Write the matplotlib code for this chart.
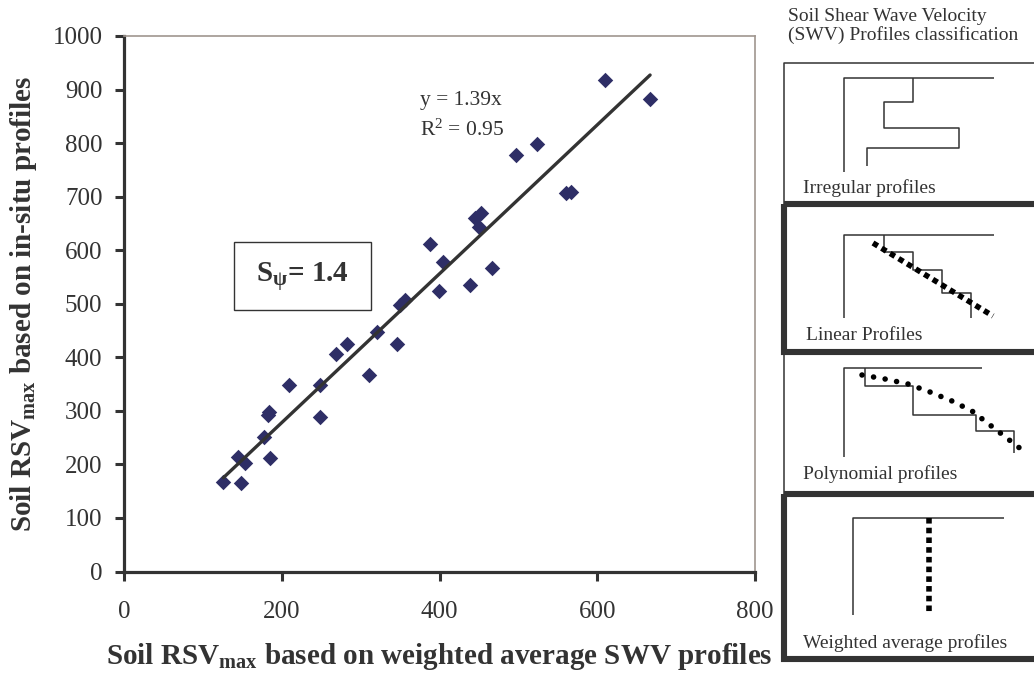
import matplotlib
matplotlib.use("Agg")
import matplotlib.pyplot as plt
from matplotlib.patches import Rectangle

plt.rcParams['font.family'] = ['Liberation Serif', 'DejaVu Serif']
plt.rcParams['mathtext.fontset'] = 'custom'
plt.rcParams['mathtext.rm'] = 'Liberation Serif'
plt.rcParams['mathtext.it'] = 'Liberation Serif:italic'
plt.rcParams['mathtext.bf'] = 'Liberation Serif:bold'

# RSVmax: weighted average SWV profiles (x) vs in-situ profiles (y)
rsv_weighted = [126, 148, 145, 153, 185, 177, 182, 184, 209, 249, 248, 269, 283, 310,
                321, 346, 350, 356, 399, 404, 388, 439, 466, 445, 452, 450, 561,
                567, 497, 523, 610, 667]
rsv_insitu = [168, 165, 213, 202, 212, 251, 292, 298, 348, 288, 348, 406, 425, 367,
              447, 424, 498, 507, 524, 578, 612, 535, 567, 660, 669, 644, 707,
              709, 778, 798, 917, 882]
slope = 1.39
r2 = 0.95
s_psi = 1.4

x_ticks = [0, 200, 400, 600, 800]
y_ticks = [0, 100, 200, 300, 400, 500, 600, 700, 800, 900, 1000]

dark = '#333333'

fig = plt.figure(figsize=(10.34, 6.73), dpi=100)
ax = fig.add_axes([124 / 1034, 101.5 / 673, 631 / 1034, 535.5 / 673])

ax.scatter(rsv_weighted, rsv_insitu, marker='D', s=62, color='#2e2e66', zorder=3,
           linewidths=0)
x_fit = [min(rsv_weighted), max(rsv_weighted)]
ax.plot(x_fit, [slope * v for v in x_fit], color=dark, lw=2.4, zorder=4,
        solid_capstyle='round')

ax.set_xlim(0, 800)
ax.set_ylim(0, 1000)
ax.set_xticks(x_ticks)
ax.set_yticks(y_ticks)
ax.tick_params(direction='out', length=6.5, width=2.2, color=dark, labelsize=18,
               labelcolor=dark)
ax.tick_params(axis='x', pad=15)
ax.tick_params(axis='y', pad=9)
for side in ['left', 'bottom']:
    ax.spines[side].set_linewidth(2.3)
    ax.spines[side].set_color(dark)
for side in ['top', 'right']:
    ax.spines[side].set_linewidth(1.2)
    ax.spines[side].set_color('#a0968f')

ax.set_xlabel(r'Soil RSV$_{\mathbf{max}}$ based on weighted average SWV profiles',
              fontsize=21, fontweight='bold', color=dark)
ax.set_ylabel(r'Soil RSV$_{\mathbf{max}}$ based on in-situ profiles',
              fontsize=21, fontweight='bold', color=dark)
ax.xaxis.set_label_coords(0.5, -0.13)
ax.yaxis.set_label_coords(-0.134, 0.5)

ax.text(375, 880, 'y = %.2fx' % slope, fontsize=15.5, color=dark, va='center')
ax.text(375, 824, r'R$^{2}$ = %.2f' % r2, fontsize=15.5, color=dark, va='center')

ax.add_patch(Rectangle((139.5, 488), 173.5, 127, fill=False, edgecolor=dark, lw=1,
                       zorder=5))
ax.text(226, 551, r'S$_{\mathbf{ψ}}$= %.1f' % s_psi, fontsize=21, fontweight='bold',
        color=dark, ha='center', va='center', zorder=6)

# schematic of SWV profile types (pixel layout)
ov = fig.add_axes([0, 0, 1, 1])
ov.set_xlim(0, 1034)
ov.set_ylim(673, 0)
ov.axis('off')
ov.patch.set_alpha(0)

ov.text(788, 8, 'Soil Shear Wave Velocity\n(SWV) Profiles classification',
        fontsize=14, color=dark, va='top', ha='left', linespacing=1.05)

thin = dict(color=dark, lw=1.1, solid_capstyle='butt')
ov.plot([784, 784, 1040], [204, 63, 63], **thin)
ov.plot([784, 784], [352, 494], **thin)
ov.add_patch(Rectangle((784, 204), 260, 148, fill=False, edgecolor=dark, lw=4.4,
                       clip_on=False))
ov.add_patch(Rectangle((784, 494), 260, 165, fill=False, edgecolor=dark, lw=4.4,
                       clip_on=False))

irregular_x = [913, 913, 884, 884, 959, 959, 867, 867]
irregular_y = [78, 102, 102, 128, 128, 148, 148, 166]
linear_x = [884, 884, 913, 913, 942, 942, 971, 971]
linear_y = [235, 252, 252, 270, 270, 293, 293, 318]
poly_x = [865, 865, 913, 913, 976, 976, 1014, 1014]
poly_y = [368, 386, 386, 415, 415, 431, 431, 453]
poly_curve_x = [862, 885, 908, 930, 952, 972, 990, 1008, 1026]
poly_curve_y = [375, 379, 384, 392, 401, 411, 425, 439, 453]

ov.plot([844, 844, 994], [172, 78, 78], **thin)
ov.plot(irregular_x, irregular_y, **thin)
ov.text(803, 188, 'Irregular profiles', fontsize=14, color=dark, va='center')

ov.plot([844, 844, 994], [318, 235, 235], **thin)
ov.plot(linear_x, linear_y, **thin)
ov.plot([873, 993], [243, 316], color='black', lw=4, dashes=(1, 0.8),
        dash_capstyle='butt')
ov.text(806, 335, 'Linear Profiles', fontsize=14, color=dark, va='center')

ov.plot([844, 844, 982], [457, 368, 368], **thin)
ov.plot(poly_x, poly_y, **thin)
ov.plot(poly_curve_x, poly_curve_y, color='black', lw=4, linestyle=(0, (0.01, 2.1)),
        dash_capstyle='round')
ov.text(803, 474, 'Polynomial profiles', fontsize=14, color=dark, va='center')

ov.plot([853, 853, 1004], [615, 518, 518], **thin)
ov.plot([929, 929], [518, 615], color='black', lw=4, dashes=(1, 0.75),
        dash_capstyle='butt')
ov.text(803, 643, 'Weighted average profiles', fontsize=14, color=dark, va='center')

fig.savefig('out.png', dpi=100)
